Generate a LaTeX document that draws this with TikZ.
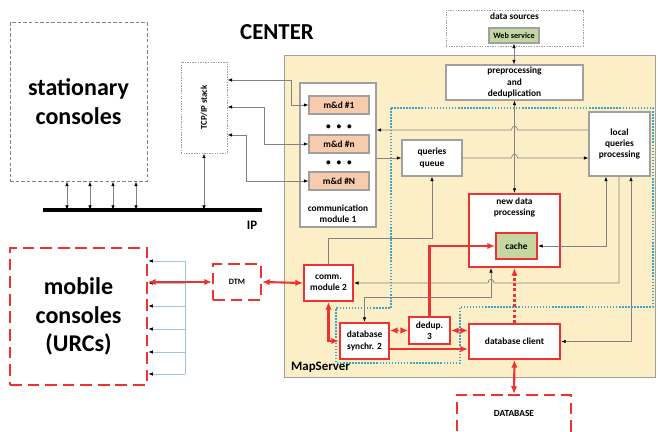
\documentclass[tikz,border=0pt]{standalone}
\usepackage{fontspec}
\setmainfont{Carlito}
\usepackage{tikz}
\usetikzlibrary{arrows.meta, calc}
\definecolor{msyellow}{RGB}{252, 239, 200}
\definecolor{redline}{RGB}{238, 50, 50}
\definecolor{grayline}{RGB}{130, 130, 130}
\definecolor{grayborder}{RGB}{160, 160, 160}
\definecolor{cyandot}{RGB}{60, 165, 200}
\definecolor{paleblue}{RGB}{160, 198, 214}
\definecolor{peach}{RGB}{248, 203, 173}
\definecolor{olive}{RGB}{196, 215, 160}

\begin{document}
\begin{tikzpicture}[
    x=0.03cm, y=-0.03cm,
    sz/.style 2 args={minimum width=#1*0.03cm, minimum height=#2*0.03cm},
    small/.style={font=\fontsize{8}{9.6}\selectfont\bfseries, align=center, inner sep=1pt},
    box/.style={rectangle, small, draw=grayborder, line width=0.9pt, fill=white},
    redbox/.style={box, draw=redline, line width=1.7pt},
    mdbox/.style={box, fill=peach, sz={60}{18}},
    dashbox/.style={rectangle, draw=grayline, line width=0.8pt, dash pattern=on 3pt off 1.8pt},
    dotbox/.style={rectangle, small, draw=grayborder, line width=0.8pt, dash pattern=on 1.2pt off 1pt},
    reddash/.style={rectangle, small, draw=redline, line width=1.9pt, dash pattern=on 10pt off 5pt},
    big/.style={font=\fontsize{20.5}{24.5}\selectfont\bfseries, align=center},
    garrow/.style={draw=grayline, line width=0.6pt, >={Latex[length=4pt,width=3pt,color=black]}},
    rarrow/.style={draw=redline, line width=1.8pt, >={Latex[length=6.5pt,width=5.5pt]}},
    barrow/.style={draw=paleblue, line width=0.7pt, >={Latex[length=4pt,width=3pt,color=black]}}
]
\useasboundingbox (0,0) rectangle (658,432);

% MapServer area
\node[rectangle, draw=grayborder, line width=0.8pt, fill=msyellow, sz={371}{322}] (ms) at (469.5,216) {};
\node[font=\fontsize{11}{13}\selectfont\bfseries, anchor=west] (mslbl) at (287,367) {MapServer};
\draw[cyandot, line width=1.3pt, dash pattern=on 1.3pt off 1.3pt] (391,108) -- (653,108) -- (653,307) -- (460,307) -- (460,363) -- (336,363) -- (336,308) -- (391,308) -- cycle;

% Outside
\node[dashbox, big, sz={137}{159}] (stat) at (78.5,101.5) {stationary\\consoles};
\node[font=\fontsize{19.5}{22}\selectfont\bfseries] (title) at (277,32) {CENTER};
\node[dotbox, sz={46}{91}, label={[small, font=\fontsize{7.5}{9}\selectfont\bfseries, rotate=90]center:TCP/IP stack}] (tcp) at (204,107.5) {};
\coordinate (busL) at (43,210);
\coordinate (busR) at (262,210);
\node[font=\fontsize{11}{13}\selectfont\bfseries] (iplbl) at (252,225) {IP};
\node[reddash, big, sz={137}{137}] (mob) at (78.5,316.5) {mobile\\consoles\\(URCs)};
\node[reddash, sz={48}{36}, font=\fontsize{7}{8}\selectfont\bfseries] (dtm) at (237,282) {DTM};
\node[dotbox, sz={137}{36}, label={[small, anchor=north, yshift=-2pt]north:data sources}] (ds) at (514.5,28) {};
\node[box, fill=olive, sz={50}{15}, font=\fontsize{7}{8}\selectfont\bfseries] (ws) at (514,35.5) {Web service};
\node[reddash, sz={114}{46}, label={[small, yshift=4pt]center:DATABASE}] (db) at (514,418) {};

% Communication module 1
\node[box, sz={76}{144}, label={[small, anchor=south, yshift=3pt]south:communication\\module 1}] (cm1) at (338,155) {};
\node[mdbox] (md1) at (339,105) {m\&d \#1};
\node[small] (dots1) at (339,127) {\textbullet\hspace{5pt}\textbullet\hspace{5pt}\textbullet};
\node[mdbox] (mdn) at (339,144) {m\&d \#n};
\node[small] (dots2) at (339,163) {\textbullet\hspace{5pt}\textbullet\hspace{5pt}\textbullet};
\node[mdbox] (mdN) at (339,181) {m\&d \#N};

% MapServer blocks
\node[box, sz={137}{35}] (pre) at (514.5,82.5) {preprocessing\\and\\deduplication};
\node[box, sz={60}{36}] (qq) at (432,158) {queries\\queue};
\node[box, sz={61}{64}] (lqp) at (619.5,144) {local\\queries\\processing};
\node[redbox, sz={91}{73}, label={[small, anchor=north, yshift=-3pt]north:new data\\processing}] (ndp) at (514.5,230.5) {};
\node[redbox, fill=olive, sz={41}{26}] (cache) at (516.5,246) {cache};
\node[redbox, sz={49}{36}] (cm2) at (328.5,283) {comm.\\module 2};
\node[redbox, sz={49}{36}] (dbs) at (364.5,341) {database\\synchr. 2};
\node[redbox, sz={41}{27}] (dd) at (429.5,330.5) {dedup.\\3};
\node[redbox, sz={91}{35}] (dbc) at (514.5,341.5) {database client};

% IP bus
\draw[line width=3pt, black] (busL) -- (busR);
\foreach \x in {67,90,113,136}
    \draw[garrow, <->] (busL-|\x,0) -- (stat.south-|\x,0);
\draw[garrow, <->] (busL-|tcp.south) -- (tcp.south);

% Gray connectors
\draw[garrow, <->] (tcp.east|-0,80) -- (291,80) |- (md1.west);
\draw[garrow, <->] (tcp.east|-0,107) -- (264,107) |- (mdn.west);
\draw[garrow, <->] (tcp.east|-0,135) -- (246,135) |- (mdN.west);
\draw[garrow, ->] (cm1.east|-qq.west) -- (qq.west);
\draw[garrow, ->] (lqp.west|-0,130) -- (517.5,130) .. controls (517.5,125) and (511.5,125) .. (511.5,130) -- (cm1.east|-0,130);
\draw[garrow, ->] (qq.east) -- (511.5,158) .. controls (511.5,153) and (517.5,153) .. (517.5,158) -- (lqp.west|-qq.east);
\draw[garrow, <->] (ws.south) -- (ws.south|-pre.north);
\draw[garrow, <->] (pre.south) -- (ndp.north);
\draw[garrow, ->] (cm2.north) -- (cm2.north|-0,238) -| (qq.south);
\draw[garrow, <->] (cache.east) -| (606,0|-lqp.south);
\draw[garrow, ->] (619,0|-lqp.south) -- (619,283) -- (494,283) .. controls (494,278) and (488,278) .. (488,283) -- (cm2.east);
\draw[garrow, <->] (631,0|-lqp.south) |- (dbc.east);
\draw[garrow, <->] (491,0|-ndp.south) -- (491,297) -| (dbs.north);

% Mobile fan-out
\coordinate (riser) at (185,261);
\draw[barrow] (riser) -- (185,374);
\foreach \y in {261,283,306,329,352,374}
    \draw[barrow, ->] (riser|-0,\y) -- (mob.east|-0,\y);

% Red connectors
\draw[rarrow, <->] (mob.east|-dtm.west) -- (dtm.west);
\draw[rarrow, <->] (dtm.east) -- (cm2.west);
\draw[rarrow, <->] (cm2.south) |- (dbs.west);
\draw[rarrow, <->, line width=1.1pt, dash pattern=on 2pt off 1.5pt] (dbs.east|-dd.west) -- (dd.west);
\draw[rarrow, <->, line width=1.3pt] (dd.east) -- (dbc.west|-dd.east);
\draw[rarrow, ->] (dbs.east|-0,349) -- (dbc.west|-0,349);
\draw[rarrow, ->] (dd.north) |- (cache.west);
\draw[rarrow, ->, dash pattern=on 2.5pt off 2pt] (dbc.north) -- (ndp.south);
\draw[rarrow, <->] (dbc.south) -- (db.north);

\end{tikzpicture}
\end{document}
